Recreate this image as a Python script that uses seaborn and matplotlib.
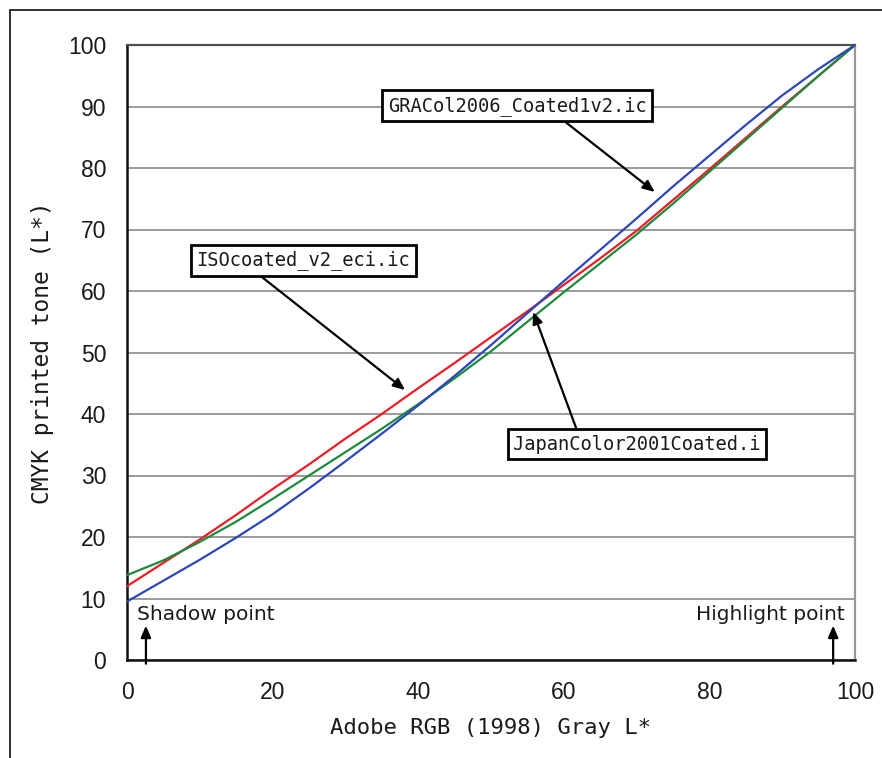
import matplotlib
matplotlib.use("Agg")
import matplotlib.pyplot as plt
from matplotlib.lines import Line2D
import pandas as pd
import seaborn as sns

# ---- data ----
gray_l = [0, 5, 10, 15, 20, 25, 30, 35, 40, 45, 50, 55, 60, 65, 70, 75, 80, 85, 90, 95, 100]
iso_coated = [12.0, 15.8, 19.6, 23.6, 27.8, 31.8, 36.0, 40.0, 44.2, 48.3, 52.5, 56.7,
              61.0, 65.3, 69.8, 74.8, 79.8, 84.9, 90.0, 95.0, 100.0]
japan_color = [13.8, 16.2, 19.2, 22.5, 26.2, 30.0, 33.8, 37.6, 41.6, 45.8, 50.2, 55.0,
               59.8, 64.5, 69.2, 74.2, 79.4, 84.6, 89.8, 95.0, 100.0]
gracol = [9.5, 12.9, 16.3, 19.9, 23.7, 27.9, 32.3, 36.8, 41.4, 46.2, 51.2, 56.4,
          61.6, 66.7, 71.8, 77.0, 82.0, 87.0, 91.8, 96.1, 100.0]

SERIES = {
    "ISOcoated_v2_eci.ic": (iso_coated, "#ee1c24"),
    "JapanColor2001Coated.i": (japan_color, "#1e8a3c"),
    "GRACol2006_Coated1v2.ic": (gracol, "#2b48b8"),
}

# label box centre, arrow tail, arrow tip (data coords)
LABELS = {
    "GRACol2006_Coated1v2.ic": ((53.6, 90.1), (60.2, 87.5), (72.5, 76.1)),
    "ISOcoated_v2_eci.ic": ((24.2, 65.0), (18.5, 62.3), (38.2, 43.9)),
    "JapanColor2001Coated.i": ((70.05, 35.1), (61.7, 37.7), (55.8, 56.6)),
}

rows = []
for name, (vals, _) in SERIES.items():
    for x, y in zip(gray_l, vals):
        rows.append({"x": x, "y": y, "profile": name})
df = pd.DataFrame(rows)

sns.set_style("white")
plt.rcParams["font.family"] = ["DejaVu Sans"]

fig = plt.figure(figsize=(8.82, 7.58), dpi=100)
ax = fig.add_axes([127 / 882, 1 - 660 / 758, 728 / 882, 615 / 758])

sns.lineplot(
    data=df, x="x", y="y", hue="profile",
    palette={k: c for k, (_, c) in SERIES.items()},
    linewidth=1.6, legend=False, ax=ax, zorder=3,
)

ax.set_xlim(0, 100)
ax.set_ylim(0, 100)
ax.set_xticks(range(0, 101, 20))
ax.set_yticks(range(0, 101, 10))
ax.yaxis.grid(True, color="#7f7f7f", lw=1.1)
ax.xaxis.grid(False)
ax.set_axisbelow(True)

ax.tick_params(axis="both", labelfontfamily="Liberation Sans", labelsize=16.5,
               labelcolor="#1a1a1a")
ax.tick_params(axis="x", direction="in", length=6, width=1, color="#333333", pad=15)
ax.tick_params(axis="y", direction="in", length=0, pad=15)

for side in ["left", "bottom"]:
    ax.spines[side].set_color("#111111")
    ax.spines[side].set_linewidth(1.8)
ax.spines["top"].set_color("#505050")
ax.spines["top"].set_linewidth(1.6)
ax.spines["right"].set_color("#999999")
ax.spines["right"].set_linewidth(1.6)

ax.set_xlabel("Adobe RGB (1998) Gray L*", family="DejaVu Sans Mono", fontsize=16,
              color="#1a1a1a", labelpad=10)
ax.set_ylabel("CMYK printed tone (L*)", family="DejaVu Sans Mono", fontsize=16.5,
              color="#1a1a1a", labelpad=10)

for name, (centre, tail, tip) in LABELS.items():
    ax.text(centre[0], centre[1], name, family="DejaVu Sans Mono", fontsize=13.5,
            ha="center", va="center", color="#1a1a1a", zorder=6,
            bbox=dict(boxstyle="square,pad=0.3", fc="white", ec="black", lw=2))
    ax.annotate("", xy=tip, xytext=tail, zorder=5,
                arrowprops=dict(arrowstyle="-|>,head_length=0.7,head_width=0.3",
                                color="black", lw=1.6, shrinkA=0, shrinkB=0))

ax.text(1.4, 7.4, "Shadow point", fontsize=14.5, ha="left", va="center", color="#1a1a1a")
ax.text(98.6, 7.4, "Highlight point", fontsize=14.5, ha="right", va="center", color="#1a1a1a")
for xa in [2.6, 97.0]:
    ax.annotate("", xy=(xa, 5.6), xytext=(xa, -0.6), annotation_clip=False,
                arrowprops=dict(arrowstyle="-|>,head_length=0.7,head_width=0.3",
                                color="black", lw=1.6, shrinkA=0, shrinkB=0))

# outer frame (top and left only)
fig.add_artist(Line2D([10 / 882, 1], [1 - 10 / 758, 1 - 10 / 758], color="#222222", lw=1.3))
fig.add_artist(Line2D([10 / 882, 10 / 882], [0, 1 - 10 / 758], color="#222222", lw=1.3))

fig.savefig("out.png", dpi=100, facecolor="white")
